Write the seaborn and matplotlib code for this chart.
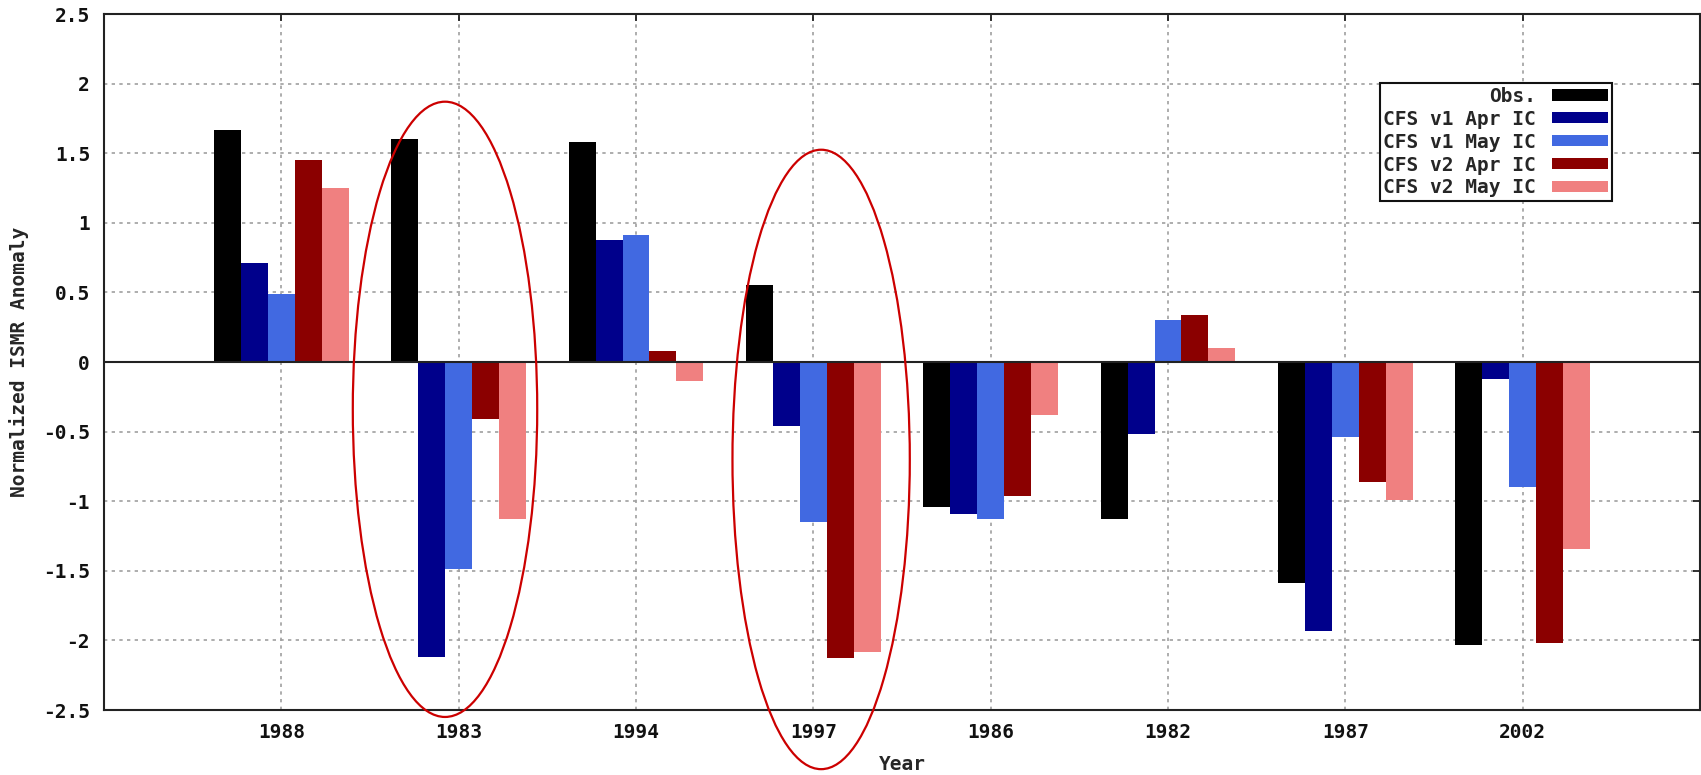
import numpy as np
import pandas as pd
import matplotlib
matplotlib.use("Agg")
import matplotlib.pyplot as plt
from matplotlib.patches import Ellipse
import seaborn as sns

# ---- data ----
years = ["1988", "1983", "1994", "1997", "1986", "1982", "1987", "2002"]
series_names = ["Obs.", "CFS v1 Apr IC", "CFS v1 May IC", "CFS v2 Apr IC", "CFS v2 May IC"]
obs      = [1.67, 1.60, 1.58, 0.55, -1.04, -1.13, -1.59, -2.03]
v1_apr   = [0.71, -2.12, 0.88, -0.46, -1.09, -0.52, -1.93, -0.12]
v1_may   = [0.49, -1.49, 0.91, -1.15, -1.13, 0.30, -0.54, -0.90]
v2_apr   = [1.45, -0.41, 0.08, -2.13, -0.96, 0.34, -0.86, -2.02]
v2_may   = [1.25, -1.13, -0.14, -2.08, -0.38, 0.10, -0.99, -1.34]
ytick_values = [-2.5, -2, -1.5, -1, -0.5, 0, 0.5, 1, 1.5, 2, 2.5]
ytick_labels = ["-2.5", "-2", "-1.5", "-1", "-0.5", "0", "0.5", "1", "1.5", "2", "2.5"]
colors = ["#000000", "#00008B", "#4169E1", "#8B0000", "#F08080"]

rows = []
for name, vals in zip(series_names, [obs, v1_apr, v1_may, v2_apr, v2_may]):
    for y, v in zip(years, vals):
        rows.append({"Year": y, "value": v, "series": name})
df = pd.DataFrame(rows)

sns.set_style("white")
plt.rcParams["font.family"] = ["DejaVu Sans Mono", "DejaVu Sans"]
plt.rcParams["font.weight"] = "bold"

fig = plt.figure(figsize=(17.01, 7.75), dpi=100)
ax = fig.add_axes([104 / 1701, 1 - 710 / 775, 1596 / 1701, 696 / 775])

sns.barplot(data=df, x="Year", y="value", hue="series", order=years,
            hue_order=series_names, palette=colors, width=0.76, saturation=1,
            errorbar=None, linewidth=0, ax=ax)

ax.set_xlim(-1, 8)
ax.set_ylim(-2.5, 2.5)
ax.set_yticks(ytick_values)
ax.set_yticklabels(ytick_labels)
ax.axhline(0, color="#222222", lw=1.5, zorder=3)

ax.set_axisbelow(True)
ax.grid(True, color="#a0a0a0", linestyle=(0, (2, 2.6)), linewidth=1.2)

for s in ax.spines.values():
    s.set_color("#222222")
    s.set_linewidth(1.5)

ax.tick_params(axis="both", direction="in", length=5, width=1.2,
               top=True, right=True, labelsize=14, colors="#111111")
ax.tick_params(axis="x", pad=9)
ax.tick_params(axis="y", pad=10)
for t in ax.get_xticklabels() + ax.get_yticklabels():
    t.set_fontweight("bold")

ax.set_xlabel("Year", fontsize=14, fontweight="bold")
ax.set_ylabel("Normalized ISMR Anomaly", fontsize=14, fontweight="bold")
ax.xaxis.set_label_coords(0.5, -0.064)
ax.yaxis.set_label_coords(-0.047, 0.5)

# ellipses highlighting 1983 and 1997
for (cx, cy, w, h) in [(0.923, -0.34, 1.04, 4.42), (3.044, -0.70, 1.0, 4.45)]:
    e = Ellipse((cx, cy), w, h, fill=False, edgecolor="#CC0000", lw=1.6,
                clip_on=False, zorder=5)
    ax.add_patch(e)

handles, labels = ax.get_legend_handles_labels()
leg = ax.legend(handles, labels, loc="upper right",
                bbox_to_anchor=(1612 / 1701, 1 - 83 / 775),
                bbox_transform=fig.transFigure, markerfirst=False,
                fancybox=False, framealpha=1, edgecolor="#111111",
                fontsize=14, labelspacing=0.2, handlelength=2.9,
                handleheight=0.5, handletextpad=0.8, borderpad=0.2,
                borderaxespad=0)
leg.get_frame().set_linewidth(1.5)
for t in leg.get_texts():
    t.set_fontweight("bold")

fig.savefig("out.png", dpi=100)
